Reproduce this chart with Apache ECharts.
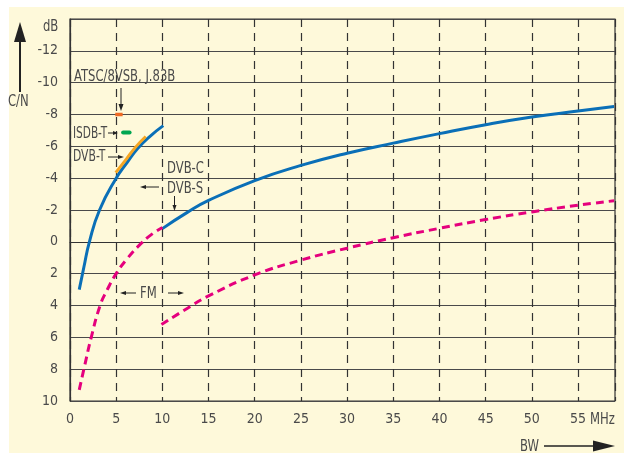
<!DOCTYPE html>
<html><head><meta charset="utf-8">
<script src="https://cdn.jsdelivr.net/npm/echarts@6/dist/echarts.min.js"></script>
<style>
html,body{margin:0;padding:0;background:#fff;}
#wrap{position:relative;width:624px;height:453px;}
#bg{position:absolute;left:9px;top:7px;width:615px;height:446px;background:#FEF9DA;}
#c{position:absolute;left:0;top:0;width:624px;height:453px;}
</style></head>
<body><div id="wrap"><div id="bg"></div><div id="c"></div></div>
<script>
// ---- data ----
const xTicks = [0,5,10,15,20,25,30,35,40,45,50,55];
const yTicks = [-12,-10,-8,-6,-4,-2,0,2,4,6,8,10];

// blue solid, 1..10 MHz
const blueA_bw = [1,1.5,2.1,3.2,5,6.2,7.3,8.6,10.1];
const blueA_cn = [3.0,1.6,0.0,-2.0,-4.0,-5.0,-5.85,-6.6,-7.3];

// blue solid, 10..59 MHz
const blueB_bw = [10,12.7,15,20,25,30,35,40,45,50,55,58.9];
const blueB_cn = [-0.83,-1.85,-2.6,-3.85,-4.8,-5.57,-6.2,-6.8,-7.36,-7.84,-8.22,-8.5];

// magenta dashed, 1..10 MHz
const pinkA_bw = [1,1.6,2.3,3.26,4,5,6.2,7.7,8.8,10];
const pinkA_cn = [9.3,7.75,6.0,4.0,3.05,2.0,1.05,0.1,-0.45,-0.9];

// magenta dashed, 10..59 MHz
const pinkB_bw = [9.9,12.5,15,20,25,30,35,40,45,50,55,58.9];
const pinkB_cn = [5.2,4.25,3.4,2.08,1.15,0.4,-0.26,-0.85,-1.4,-1.88,-2.3,-2.58];

// DVB-T (orange)
const dvbt_bw = [4.95,6.1,7.1,8.2];
const dvbt_cn = [-4.35,-5.2,-5.95,-6.62];

// ATSC/8VSB, J.83B marker
const atsc_bw = [4.9,5.7];
const atsc_cn = [-8,-8];

// ISDB-T marker
const isdb_bw = [5.75,6.45];
const isdb_cn = [-6.87,-6.87];

const zip = (a,b)=>a.map((v,i)=>[v,b[i]]);

const FONT = "'DejaVu Sans Condensed','Liberation Sans Narrow','DejaVu Sans',sans-serif";
const TXT = '#4a4a4a';

function txt(x,y,s,sx){
  return {type:'text',x:x,y:y,z:50,scaleX:sx||0.86,
    style:{text:s,fill:TXT,font:'15px '+FONT,textVerticalAlign:'middle',textAlign:'left'}};
}
function arrow(x1,y1,x2,y2,hl,hw,lw){
  const dx=x2-x1, dy=y2-y1, L=Math.hypot(dx,dy), ux=dx/L, uy=dy/L;
  const bx=x2-ux*hl, by=y2-uy*hl, px=-uy, py=ux;
  return [
    {type:'line',z:50,shape:{x1:x1,y1:y1,x2:bx+ux*1,y2:by+uy*1},style:{stroke:'#222',lineWidth:lw||1}},
    {type:'polygon',z:50,shape:{points:[[x2,y2],[bx+px*hw/2,by+py*hw/2],[bx-px*hw/2,by-py*hw/2]]},style:{fill:'#222'}}
  ];
}

const chart = echarts.init(document.getElementById('c'));
const lineBase = {type:'line',symbol:'none',smooth:0.5,silent:true};

chart.setOption({
  animation:false,
  backgroundColor:'transparent',
  grid:{left:70,right:9,top:19,bottom:52,show:true,borderColor:'#333',borderWidth:1.2,backgroundColor:'transparent'},
  xAxis:{type:'value',min:0,max:59,interval:5,
    axisLine:{show:true,lineStyle:{color:'#333',width:1.2}},
    axisTick:{show:false},
    axisLabel:{color:TXT,fontFamily:FONT,fontSize:14,margin:11,
      formatter:v=>xTicks.indexOf(v)>=0?String(v):''},
    splitLine:{show:true,lineStyle:{color:'#333',width:1.2,type:[8,6]}}
  },
  yAxis:{type:'value',min:-14,max:10,interval:2,inverse:true,
    axisLine:{show:true,lineStyle:{color:'#333',width:1.2}},
    axisTick:{show:false},
    axisLabel:{color:TXT,fontFamily:FONT,fontSize:14,margin:12,
      formatter:v=>yTicks.indexOf(v)>=0?String(v):''},
    splitLine:{show:true,lineStyle:{color:'#4a4a4a',width:1.2}}
  },
  series:[
    Object.assign({},lineBase,{data:zip(blueA_bw,blueA_cn),lineStyle:{color:'#0A6FB7',width:3}}),
    Object.assign({},lineBase,{data:zip(blueB_bw,blueB_cn),lineStyle:{color:'#0A6FB7',width:3}}),
    Object.assign({},lineBase,{data:zip(pinkA_bw,pinkA_cn),lineStyle:{color:'#E5007D',width:3,type:[8,5]}}),
    Object.assign({},lineBase,{data:zip(pinkB_bw,pinkB_cn),lineStyle:{color:'#E5007D',width:3,type:[8,5]}}),
    Object.assign({},lineBase,{data:zip(dvbt_bw,dvbt_cn),z:5,lineStyle:{color:'#F6A623',width:3}}),
    Object.assign({},lineBase,{data:zip(atsc_bw,atsc_cn),smooth:false,z:5,lineStyle:{color:'#F06A24',width:3.5}}),
    Object.assign({},lineBase,{data:zip(isdb_bw,isdb_cn),smooth:false,z:5,lineStyle:{color:'#00A651',width:4,cap:'round'}})
  ],
  graphic:[
    txt(43,27,'dB'),
    txt(8,102,'C/N'),
    ...arrow(20,92,20,22,20,12,2),
    txt(74,77,'ATSC/8VSB, J.83B'),
    ...arrow(121,88,121,111,7,5,1),
    txt(73,134,'ISDB-T',0.78),
    ...arrow(108,133,118,133,5,4,1),
    txt(73,157,'DVB-T',0.8),
    ...arrow(108,157,124,157,6,4,1),
    txt(167,169,'DVB-C'),
    txt(167,189,'DVB-S'),
    ...arrow(159,187,140,187,6,4,1),
    ...arrow(174.5,196,174.5,211,6,4,1),
    txt(140,294,'FM'),
    ...arrow(136,293,120,293,6,4,1),
    ...arrow(168,293,184,293,6,4,1),
    txt(590,420,'MHz'),
    txt(520,447,'BW'),
    ...arrow(544,446,615,446,22,11,1.5)
  ]
});
</script></body></html>
